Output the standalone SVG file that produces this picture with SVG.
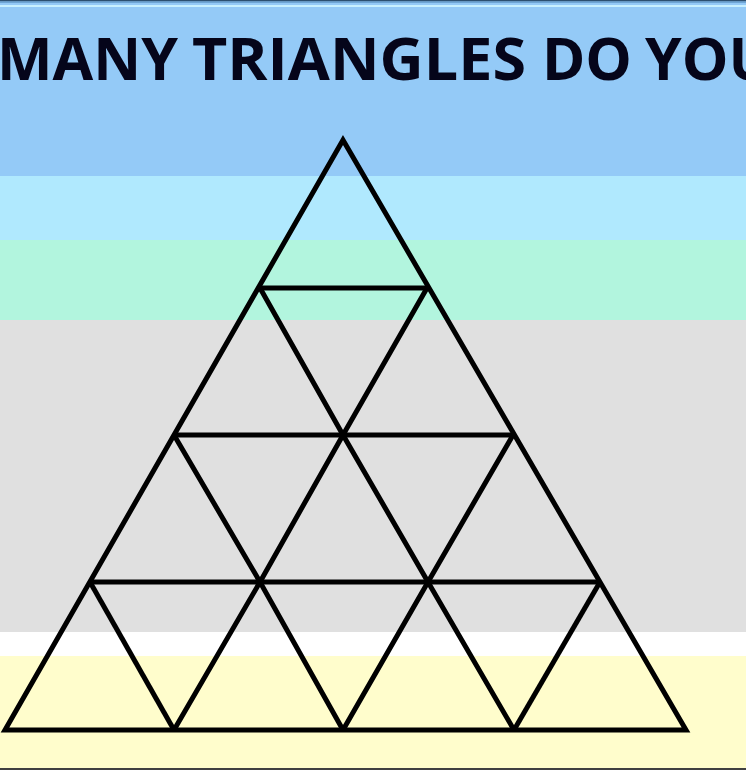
<svg xmlns="http://www.w3.org/2000/svg" width="746" height="770" viewBox="0 0 746 770">
  <style>
    .ln { fill: none; stroke: #000; stroke-width: 5; stroke-linejoin: miter; stroke-linecap: butt; }
    .title { font-family: "Open Sans", "Liberation Sans", sans-serif; font-weight: 700; font-size: 59px; fill: #05051a; }
  </style>
  <g id="background">
    <rect x="0" y="0" width="746" height="176" fill="#94caf7"/>
    <rect x="0" y="176" width="746" height="64" fill="#b0e9fe"/>
    <rect x="0" y="240" width="746" height="80" fill="#b2f5de"/>
    <rect x="0" y="320" width="746" height="312" fill="#e0e0e0"/>
    <rect x="0" y="632" width="746" height="24" fill="#ffffff"/>
    <rect x="0" y="656" width="746" height="114" fill="#fffdcc"/>
    <rect x="0" y="0" width="746" height="1.5" fill="#2d5070"/>
    <rect x="0" y="1.5" width="746" height="1.5" fill="#6fa6d6"/>
    <rect x="0" y="5" width="746" height="2" fill="#c8f0ff"/>
    <rect x="0" y="768" width="746" height="2" fill="#404040"/>
  </g>
  <g id="title">
    <text class="title" x="-3" y="80" textLength="181" lengthAdjust="spacingAndGlyphs">MANY</text>
    <text class="title" x="192" y="80" textLength="334" lengthAdjust="spacingAndGlyphs">TRIANGLES</text>
    <text class="title" x="542" y="80" textLength="90" lengthAdjust="spacingAndGlyphs">DO</text>
    <text class="title" x="645" y="80" textLength="128" lengthAdjust="spacingAndGlyphs">YOU</text>
  </g>
  <g id="triangle">
    <polygon class="ln" points="343,140 5,730 686,730"/>
    <line class="ln" x1="260" y1="288" x2="427" y2="288"/>
    <line class="ln" x1="174" y1="435" x2="513" y2="435"/>
    <line class="ln" x1="90" y1="582" x2="600" y2="582"/>
    <polyline class="ln" points="427,288 343,435 260,582 174,730"/>
    <polyline class="ln" points="260,288 343,435 428,582 514,730"/>
    <polyline class="ln" points="174,435 260,582 343,730"/>
    <polyline class="ln" points="513,435 428,582 343,730"/>
    <line class="ln" x1="90" y1="582" x2="174" y2="730"/>
    <line class="ln" x1="600" y1="582" x2="514" y2="730"/>
  </g>
</svg>
